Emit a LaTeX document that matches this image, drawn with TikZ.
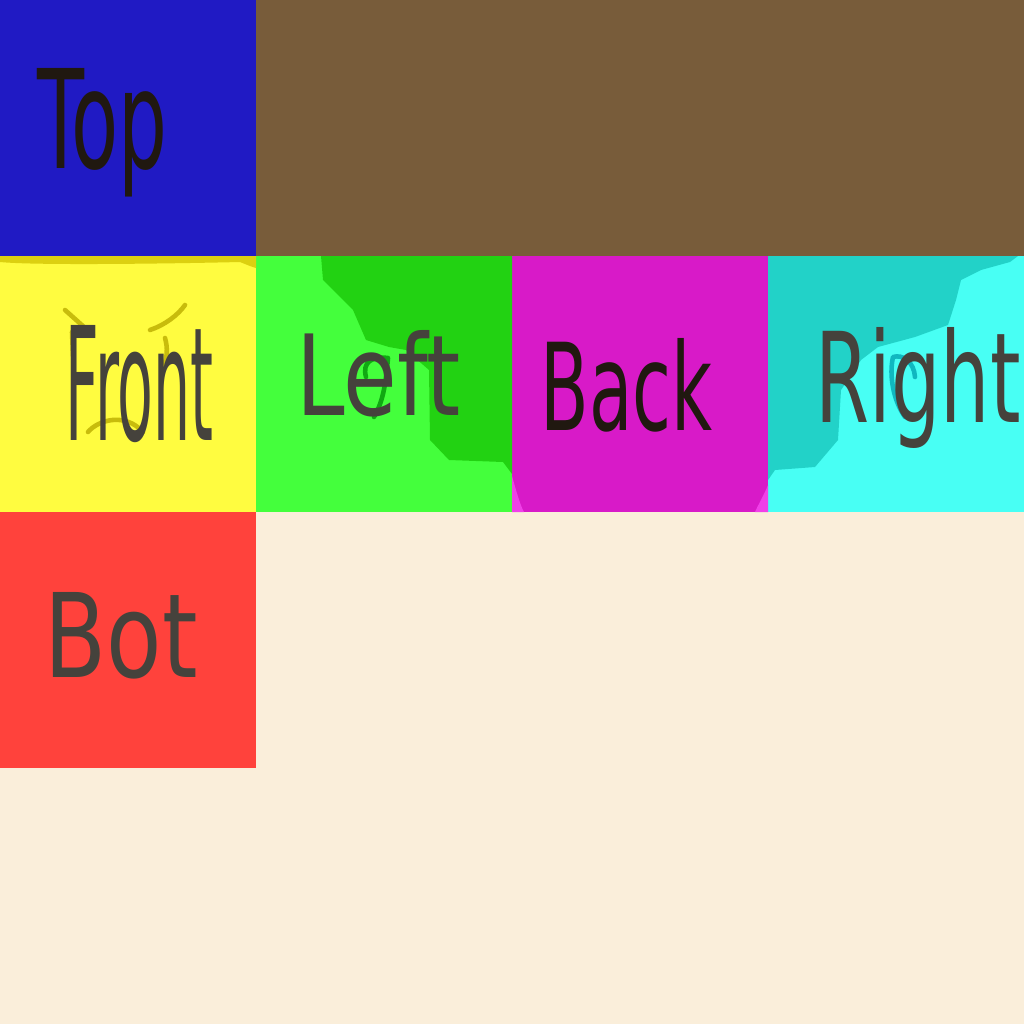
\documentclass[tikz,border=0pt]{standalone}
\usepackage{fontspec}
\setsansfont{DejaVu Sans}
\usepackage{tikz}
\usetikzlibrary{calc}

\definecolor{topblue}{RGB}{32,26,196}
\definecolor{restbrown}{RGB}{120,92,58}
\definecolor{frontyellow}{RGB}{255,252,64}
\definecolor{frontshade}{RGB}{220,208,16}
\definecolor{frontmark}{RGB}{200,188,12}
\definecolor{leftgreen}{RGB}{68,255,60}
\definecolor{leftshade}{RGB}{34,210,18}
\definecolor{leftmark}{RGB}{16,168,18}
\definecolor{backmagenta}{RGB}{216,26,200}
\definecolor{backlight}{RGB}{240,64,232}
\definecolor{rightcyan}{RGB}{72,255,244}
\definecolor{rightshade}{RGB}{34,210,200}
\definecolor{rightmark}{RGB}{16,184,192}
\definecolor{botred}{RGB}{255,66,60}
\definecolor{emptycream}{RGB}{250,238,218}
\definecolor{inkgrey}{RGB}{69,66,60}
\definecolor{inkblack}{RGB}{32,24,16}

\begin{document}
\begin{tikzpicture}[
    x=0.01cm, y=-0.01cm,
    facetext/.style={anchor=base west, inner sep=0pt, font=\sffamily, text=inkgrey},
    sketch/.style={line width=1.3pt, line cap=round, line join=round}
]
\useasboundingbox (0,0) rectangle (1024,1024);
\fill[emptycream] (0,0) rectangle (1024,1024);
\fill[topblue] (0,0) rectangle (256,256);
\fill[restbrown] (256,0) rectangle (1024,256);
\fill[frontyellow] (0,256) rectangle (256,512);
\fill[leftgreen] (256,256) rectangle (512,512);
\fill[backmagenta] (512,256) rectangle (768,512);
\fill[rightcyan] (768,256) rectangle (1024,512);
\fill[botred] (0,512) rectangle (256,768);

% shaded parts of the side faces
\fill[frontshade] (0,256) -- (0,262) .. controls (40,266) and (200,263) .. (240,262) -- (250,266) -- (256,268) -- (256,256) -- cycle;
\fill[leftshade] (321,256) -- (323,280) -- (340,297) -- (353,310) -- (366,340) -- (389,347) -- (406,350) -- (429,370) -- (430,440) -- (449,460) -- (503,462) -- (512,474) -- (512,256) -- cycle;
\fill[backlight] (512,476) .. controls (516,490) and (520,505) .. (524,512) -- (512,512) -- cycle;
\fill[backlight] (768,485) .. controls (764,495) and (758,505) .. (755,512) -- (768,512) -- cycle;
\fill[rightshade] (768,256) -- (1018,256) -- (1010,262) -- (981,270) -- (961,280) -- (956,300) -- (948,325) -- (915,337) -- (878,347) -- (861,360) -- (841,390) -- (838,440) -- (815,467) -- (775,470) -- (768,480) -- cycle;

% faint strokes under the labels
\draw[sketch, frontmark] (65,310) -- (93,335);
\draw[sketch, frontmark] (72,332) -- (73,356);
\draw[sketch, frontmark] (150,330) .. controls (165,325) and (178,315) .. (185,305);
\draw[sketch, frontmark] (165,338) .. controls (168,348) and (167,358) .. (164,365);
\draw[sketch, frontmark] (88,432) .. controls (98,420) and (125,412) .. (143,432);
\draw[sketch, leftmark] (366,377) .. controls (362,362) and (372,356) .. (388,358) .. controls (386,380) and (384,400) .. (374,417);
\draw[sketch, rightmark] (915,377) .. controls (914,362) and (903,354) .. (893,357) .. controls (889,375) and (893,400) .. (905,417);

% labels
\node[facetext, text=inkblack] (top) at (37,168) {\resizebox{1.30cm}{1.00cm}{Top}};
\node[facetext] (front) at (65,440) {\resizebox{1.48cm}{1.15cm}{Front}};
\node[facetext] (left) at (296,415) {\resizebox{1.64cm}{0.85cm}{Left}};
\node[facetext, text=inkblack] (back) at (540,430) {\resizebox{1.72cm}{0.92cm}{Back}};
\node[facetext] (right) at (815,422) {\resizebox{2.05cm}{0.95cm}{Right}};
\node[facetext] (bot) at (44,677) {\resizebox{1.53cm}{0.85cm}{Bot}};
\end{tikzpicture}
\end{document}
